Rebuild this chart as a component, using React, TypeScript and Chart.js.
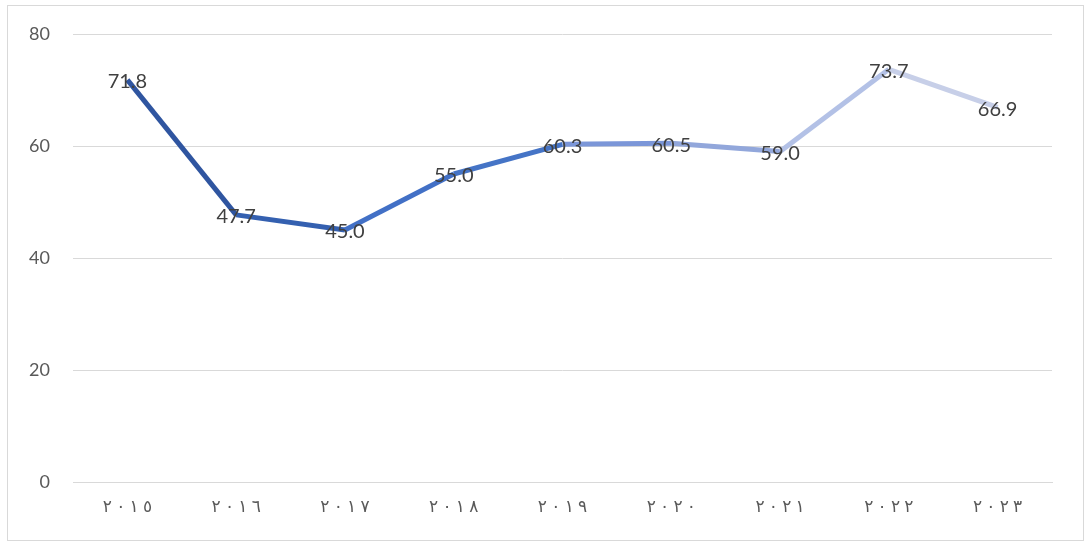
import React, { useEffect, useRef } from "react";
import { Chart, registerables } from "chart.js";

Chart.register(...registerables);

const years = ["٢٠١٥", "٢٠١٦", "٢٠١٧", "٢٠١٨", "٢٠١٩", "٢٠٢٠", "٢٠٢١", "٢٠٢٢", "٢٠٢٣"];
const values = [71.8, 47.7, 45.0, 55.0, 60.3, 60.5, 59.0, 73.7, 66.9];
const segmentColors = ["#2F55A0", "#3460B0", "#4270C6", "#4574C6", "#7B96D8", "#92A7DB", "#B3C1E6", "#C7CFE8"];

const labelPlugin = {
  id: "pointLabels",
  afterDatasetsDraw(chart: any) {
    const ctx = chart.ctx;
    const meta = chart.getDatasetMeta(0);
    ctx.save();
    ctx.font = "20px Lato";
    ctx.fillStyle = "#404040";
    ctx.textAlign = "center";
    ctx.textBaseline = "middle";
    meta.data.forEach((pt: any, i: number) => {
      ctx.fillText(values[i].toFixed(1), pt.x, pt.y + 2);
    });
    ctx.restore();
  },
};

export default function App() {
  const ref = useRef<HTMLCanvasElement>(null);
  useEffect(() => {
    if (!ref.current) return;
    const chart = new Chart(ref.current, {
      type: "line",
      data: {
        labels: years,
        datasets: [
          {
            data: values,
            borderWidth: 5,
            borderColor: segmentColors[0],
            pointRadius: 0,
            tension: 0,
            segment: {
              borderColor: (c: any) => segmentColors[c.p0DataIndex],
            },
          },
        ],
      },
      options: {
        animation: false,
        responsive: false,
        maintainAspectRatio: false,
        layout: { padding: { top: 28, right: 31, left: 0, bottom: 0 } },
        plugins: { legend: { display: false }, tooltip: { enabled: false } },
        scales: {
          x: {
            offset: true,
            grid: { display: false, drawTicks: false },
            border: { color: "#D9D9D9", width: 1 },
            ticks: {
              color: "#595959",
              font: { family: "DejaVu Sans", size: 17 },
              padding: 15,
              maxRotation: 0,
              callback: (_v: any, i: number) => "\u202D" + years[i].split("").join("\u2005") + "\u202C",
            },
            afterFit: (axis: any) => { axis.height = 58; },
          },
          y: {
            min: 0,
            max: 80,
            ticks: { stepSize: 20, color: "#595959", font: { family: "Lato", size: 18 }, padding: 3 },
            grid: { color: "#D9D9D9", drawTicks: true, tickLength: 20, tickColor: "rgba(0,0,0,0)", lineWidth: 1 },
            border: { display: false },
            afterFit: (axis: any) => { axis.width = 65; },
          },
        },
      },
      plugins: [labelPlugin],
    });
    return () => chart.destroy();
  }, []);
  return (
    <div style={{ position: "fixed", left: 0, top: 0, width: 1091, height: 543, background: "#fff" }}>
      <div style={{ position: "absolute", left: 7, top: 5, width: 1075, height: 534, border: "1px solid #D9D9D9" }}>
        <canvas ref={ref} width={1075} height={534} style={{ display: "block" }} />
      </div>
    </div>
  );
}
